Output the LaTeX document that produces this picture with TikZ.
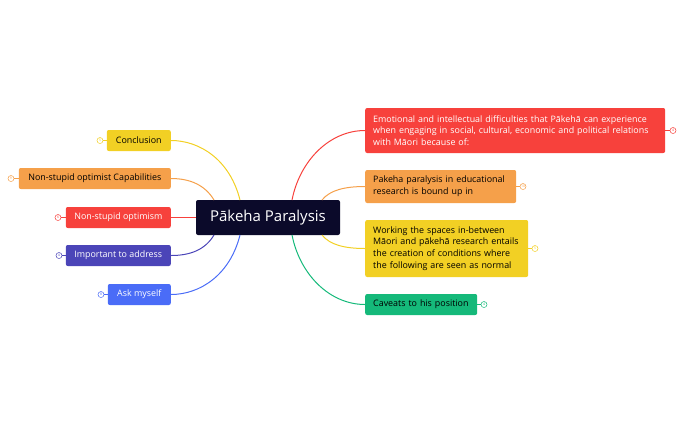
\documentclass[tikz,border=0pt]{standalone}
\usepackage{fontspec}
\setmainfont{Open Sans}
\begin{document}
\begin{tikzpicture}[x=1pt,y=-1pt,
 box/.style={rounded corners=2pt,inner sep=0pt,anchor=north west,align=left,font=\fontsize{8.9}{11.8}\selectfont},
 num/.style={circle,draw,line width=0.5pt,minimum size=6pt,inner sep=0pt,font=\fontsize{3.5}{4}\selectfont},
 ln/.style={line width=1pt}]
\definecolor{cy}{HTML}{F2D024}\definecolor{co}{HTML}{F5A04A}\definecolor{cr}{HTML}{F7413C}
\definecolor{cp}{HTML}{4B45B8}\definecolor{cb}{HTML}{4A6CF7}\definecolor{cg}{HTML}{15B97A}
\definecolor{cn}{HTML}{0B0A2A}
\useasboundingbox (0,0) rectangle (685,424);
\node[box,fill=cn,text=white,minimum width=144pt,minimum height=35pt,align=center,anchor=center,font=\fontsize{15}{17}\selectfont] (c) at (268,217.5) {Pākeha Paralysis};
% left
\node[box,fill=cy,minimum width=64pt,minimum height=21pt,anchor=east] (l1) at (171,140.5) {\makebox[64pt]{Conclusion}};
\node[box,fill=co,minimum width=152pt,minimum height=21pt,anchor=east] (l2) at (171,178.5) {\makebox[152pt]{Non-stupid optimist Capabilities}};
\node[box,fill=cr,text=white,minimum width=105pt,minimum height=21pt,anchor=east] (l3) at (171,217.5) {\makebox[105pt]{Non-stupid optimism}};
\node[box,fill=cp,text=white,minimum width=105pt,minimum height=21pt,anchor=east] (l4) at (171,255.5) {\makebox[105pt]{Important to address}};
\node[box,fill=cb,text=white,minimum width=63pt,minimum height=21pt,anchor=east] (l5) at (171,294.5) {\makebox[63pt]{Ask myself}};
\node[num,draw=cy,text=cy] (n1) at (100,140.5) {5};
\node[num,draw=co,text=co] (n2) at (11,178.5) {9};
\node[num,draw=cr,text=cr] (n3) at (58,217.5) {6};
\node[num,draw=cp,text=cp] (n4) at (59,255.5) {4};
\node[num,draw=cb,text=cb] (n5) at (101,294.5) {8};
\draw[ln,cy] (l1.west)--(n1); \draw[ln,co] (l2.west)--(n2); \draw[ln,cr] (l3.west)--(n3);
\draw[ln,cp] (l4.west)--(n4); \draw[ln,cb] (l5.west)--(n5);
\draw[ln,cy] (240,200) .. controls (230,160) and (200,140.5) .. (l1.east);
\draw[ln,co] (214,200) .. controls (205,185) and (190,178.5) .. (l2.east);
\draw[ln,cr] (c.west)--(l3.east);
\draw[ln,cp] (214,235) .. controls (205,250) and (190,255.5) .. (l4.east);
\draw[ln,cb] (240,235) .. controls (230,275) and (200,294.5) .. (l5.east);
% right
\node[box,fill=cr,text=white,minimum width=300pt,minimum height=45pt,anchor=west,text width=284pt,inner xsep=8pt] (r1) at (365,130.5) {Emotional and intellectual difficulties that Pākehā can experience\\when engaging in social, cultural, economic and political relations\\with Māori because of:};
\node[box,fill=co,minimum width=151pt,minimum height=33pt,anchor=west,text width=135pt,inner xsep=8pt] (r2) at (365,186.5) {Pakeha paralysis in educational\\research is bound up in};
\node[box,fill=cy,minimum width=163pt,minimum height=57pt,anchor=west,text width=147pt,inner xsep=8pt] (r3) at (365,248.5) {Working the spaces in-between\\Māori and pākehā research entails\\the creation of conditions where\\the following are seen as normal};
\node[box,fill=cg,minimum width=112pt,minimum height=21pt,anchor=west,text width=96pt,inner xsep=8pt] (r4) at (365,304.5) {Caveats to his position};
\node[num,draw=cr,text=cr] (m1) at (673,130.5) {4};
\node[num,draw=co,text=co] (m2) at (523,186.5) {10};
\node[num,draw=cy,text=cy] (m3) at (535,248.5) {5};
\node[num,draw=cg,text=cg] (m4) at (484,304.5) {4};
\draw[ln,cr] (r1.east)--(m1); \draw[ln,co] (r2.east)--(m2); \draw[ln,cy] (r3.east)--(m3); \draw[ln,cg] (r4.east)--(m4);
\draw[ln,cr] (292,200) .. controls (300,160) and (330,130.5) .. (r1.west);
\draw[ln,co] (322,200) .. controls (330,190) and (345,186.5) .. (r2.west);
\draw[ln,cy] (322,235) .. controls (330,245) and (345,248.5) .. (r3.west);
\draw[ln,cg] (292,235) .. controls (300,275) and (330,304.5) .. (r4.west);
\end{tikzpicture}
\end{document}
